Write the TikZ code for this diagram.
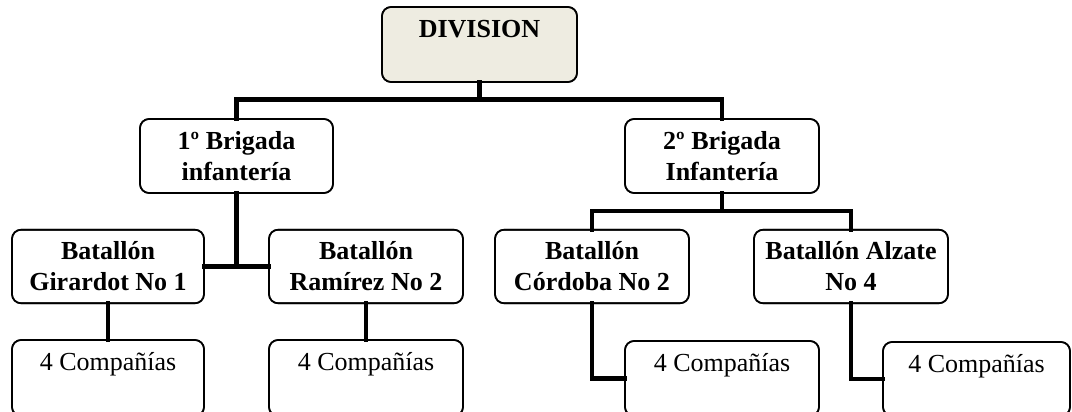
\documentclass[tikz,border=0pt]{standalone}
\usepackage{fontspec}
\setmainfont{Liberation Serif}
\definecolor{headfill}{HTML}{EEECE1}
\begin{document}
\begin{tikzpicture}[x=1pt,y=-1pt,
  box/.style={draw=black, line width=1.6pt, rounded corners=9pt, fill=white,
    minimum width=#1, minimum height=73.5pt, inner sep=0pt, outer sep=0pt},
  box/.default=194pt,
  lbl/.style={anchor=north, inner sep=0pt, align=center,
    font=\fontsize{26}{31}\selectfont},
  blbl/.style={lbl, font=\fontsize{26}{31}\selectfont\bfseries},
  link/.style={line width=4.6pt, line cap=rect}]
\useasboundingbox (0,0) rectangle (1072,412);
\clip (0,0) rectangle (1072,412);

% boxes
\node[box=195pt, fill=headfill, minimum height=75pt] (div) at (479.5,44.5) {};
\node[box=193pt, minimum height=74pt] (b1) at (236.5,156) {};
\node[box=194pt, minimum height=74pt] (b2) at (722,156) {};
\node[box=192pt] (gir) at (108,266.5) {};
\node[box=194pt] (ram) at (366,266.5) {};
\node[box=194pt] (cor) at (592,266.5) {};
\node[box=194pt] (alz) at (851,266.5) {};
\node[box=192pt, minimum height=76pt] (c1) at (108,378) {};
\node[box=194pt, minimum height=76pt] (c2) at (366,378) {};
\node[box=194pt, minimum height=75pt] (c3) at (722,378.5) {};
\node[box=187pt, minimum height=74pt] (c4) at (976.5,379) {};

% connectors
\draw[link] (div.south) -- ++(0,17.5) coordinate (top);
\draw[link] (b1.north) |- (top) -| (b2.north);
\draw[link] (b1.south) -- (b1.south |- gir.east);
\draw[link] (gir.east) -- (ram.west);
\draw[link] (gir.south) -- (c1.north);
\draw[link] (ram.south) -- (c2.north);
\draw[link] (b2.south) -- ++(0,18) coordinate (mid);
\draw[link] (cor.north) |- (mid) -| (alz.north);
\draw[link] (cor.south) |- (c3.west);
\draw[link] (alz.south) |- (c4.west);

% redraw box outlines over connector ends
\foreach \n in {div,b1,b2,gir,ram,cor,alz,c1,c2,c3,c4}
  \draw[line width=1.6pt, rounded corners=9pt]
    (\n.north west) rectangle (\n.south east);

% labels
\node[blbl] (tdiv) at ([yshift=-8.3pt]div.north) {\strut DIVISION};
\node[blbl] (tb1) at ([yshift=-8.3pt]b1.north) {\strut 1º Brigada\\infantería};
\node[blbl] (tb2) at ([yshift=-8.3pt]b2.north) {\strut 2º Brigada\\Infantería};
\node[blbl] (tgir) at ([yshift=-8.3pt]gir.north) {\strut Batallón\\Girardot No 1};
\node[blbl] (tram) at ([yshift=-8.3pt]ram.north) {\strut Batallón\\Ramírez No 2};
\node[blbl] (tcor) at ([yshift=-8.3pt]cor.north) {\strut Batallón\\Córdoba No 2};
\node[blbl] (talz) at ([yshift=-8.3pt]alz.north) {\strut Batallón Alzate\\No 4};
\node[lbl] (tc1) at ([yshift=-8.3pt]c1.north) {\strut 4 Compañías};
\node[lbl] (tc2) at ([yshift=-8.3pt]c2.north) {\strut 4 Compañías};
\node[lbl] (tc3) at ([yshift=-8.3pt]c3.north) {\strut 4 Compañías};
\node[lbl] (tc4) at ([yshift=-8.3pt]c4.north) {\strut 4 Compañías};
\end{tikzpicture}
\end{document}
